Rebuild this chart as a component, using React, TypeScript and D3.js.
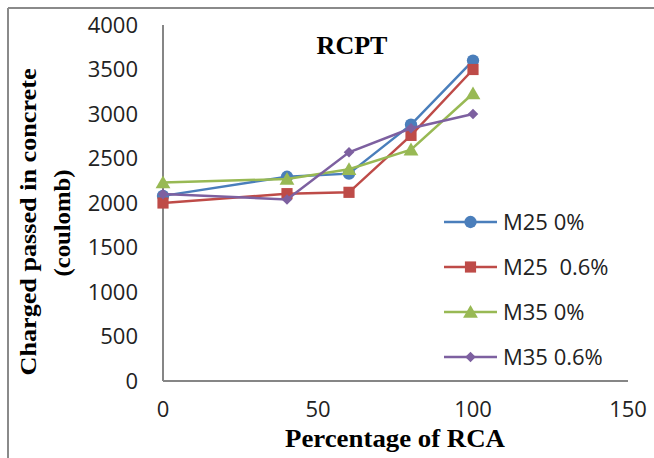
import React from "react";
import * as d3 from "d3";

const xValues = [0, 40, 60, 80, 100];
const m25_0 = [2080, 2295, 2330, 2880, 3600];
const m25_06 = [2000, 2105, 2120, 2760, 3500];
const m35_0 = [2230, 2270, 2380, 2600, 3230];
const m35_06 = [2100, 2040, 2570, 2840, 3000];
const seriesNames = ["M25 0%", "M25  0.6%", "M35 0%", "M35 0.6%"];
const seriesColors = ["#4A7EBB", "#BE4B48", "#98B954", "#7D60A0"];
const seriesMarkers = ["circle", "square", "triangle", "diamond"];
const yTicks = [0, 500, 1000, 1500, 2000, 2500, 3000, 3500, 4000];
const xTicks = [0, 50, 100, 150];

const W = 654;
const H = 458;
const plot = { left: 163, right: 628, top: 25, bottom: 381 };

export default function App() {
  const x = d3.scaleLinear().domain([0, 150]).range([plot.left, plot.right]);
  const y = d3.scaleLinear().domain([0, 4000]).range([plot.bottom, plot.top]);
  const all = [m25_0, m25_06, m35_0, m35_06];
  const line = d3
    .line<number>()
    .x((_, i) => x(xValues[i]))
    .y((d) => y(d));

  const symType: Record<string, any> = {
    circle: d3.symbolCircle,
    square: d3.symbolSquare,
    triangle: d3.symbolTriangle,
    diamond: d3.symbolSquare,
  };
  const symSize: Record<string, number> = {
    circle: 120,
    square: 125,
    triangle: 95,
    diamond: 56,
  };
  const marker = (kind: string, cx: number, cy: number, color: string, key: any) => {
    const p = d3.symbol().type(symType[kind]).size(symSize[kind])();
    const dy = kind === "triangle" ? 1.5 : 0;
    const rot = kind === "diamond" ? " rotate(45)" : "";
    return (
      <path key={key} d={p || ""} transform={`translate(${cx},${cy + dy})${rot}`} fill={color} stroke="none" />
    );
  };

  const legendY = [222, 267, 312, 357];

  return (
    <svg
      width={W}
      height={H}
      style={{ position: "absolute", left: 0, top: 0, background: "#fff" }}
      xmlns="http://www.w3.org/2000/svg"
    >
      <rect x={0} y={0} width={W} height={H} fill="#fff" />
      {/* outer frame */}
      <line x1={8} x2={W} y1={8} y2={8} stroke="#8a8a8a" strokeWidth={2} />
      <line x1={8} x2={8} y1={8} y2={H} stroke="#8a8a8a" strokeWidth={2} />

      {/* axes */}
      <line x1={plot.left} x2={plot.left} y1={plot.top} y2={plot.bottom} stroke="#868686" strokeWidth={2} />
      <line x1={plot.left} x2={plot.right} y1={plot.bottom} y2={plot.bottom} stroke="#868686" strokeWidth={2} />

      {/* y tick labels */}
      {yTicks.map((t) => (
        <text
          key={"y" + t}
          x={138}
          y={y(t) + 7.5}
          textAnchor="end"
          fontFamily="'Open Sans', sans-serif"
          fontSize={22}
          fill="#222"
        >
          {t}
        </text>
      ))}
      {/* x tick labels */}
      {xTicks.map((t) => (
        <text
          key={"x" + t}
          x={x(t)}
          y={417}
          textAnchor="middle"
          fontFamily="'Open Sans', sans-serif"
          fontSize={22}
          fill="#222"
        >
          {t}
        </text>
      ))}

      {/* series */}
      {all.map((s, si) => (
        <g key={"s" + si}>
          <path d={line(s) || ""} fill="none" stroke={seriesColors[si]} strokeWidth={2.5} />
          {s.map((v, i) => marker(seriesMarkers[si], x(xValues[i]), y(v), seriesColors[si], i))}
        </g>
      ))}

      {/* title */}
      <text
        x={352}
        y={54}
        textAnchor="middle"
        fontFamily="'Liberation Serif', 'Times New Roman', serif"
        fontWeight="bold"
        fontSize={26}
        fill="#000"
      >
        RCPT
      </text>

      {/* y axis title */}
      <g transform="translate(36,222) rotate(-90)">
        <text
          x={0}
          y={0}
          textAnchor="middle"
          fontFamily="'Liberation Serif', 'Times New Roman', serif"
          fontWeight="bold"
          fontSize={24}
          fill="#000"
          textLength={307}
          lengthAdjust="spacingAndGlyphs"
        >
          Charged passed in concrete
        </text>
      </g>
      <g transform="translate(70,223) rotate(-90)">
        <text
          x={0}
          y={0}
          textAnchor="middle"
          fontFamily="'Liberation Serif', 'Times New Roman', serif"
          fontWeight="bold"
          fontSize={24}
          fill="#000"
          textLength={107}
          lengthAdjust="spacingAndGlyphs"
        >
          (coulomb)
        </text>
      </g>

      {/* x axis title */}
      <text
        x={395}
        y={447}
        textAnchor="middle"
        fontFamily="'Liberation Serif', 'Times New Roman', serif"
        fontWeight="bold"
        fontSize={25}
        fill="#000"
        textLength={220}
        lengthAdjust="spacingAndGlyphs"
      >
        Percentage of RCA
      </text>

      {/* legend */}
      {seriesNames.map((n, i) => (
        <g key={"l" + i}>
          <line x1={444} x2={497} y1={legendY[i]} y2={legendY[i]} stroke={seriesColors[i]} strokeWidth={2.5} />
          {marker(seriesMarkers[i], 470.5, legendY[i], seriesColors[i], "m")}
          <text
            x={503}
            y={legendY[i] + 8}
            fontFamily="'Open Sans', sans-serif"
            fontSize={22}
            fill="#222"
          >
            {n.replace(/ /g, "\u00a0")}
          </text>
        </g>
      ))}
    </svg>
  );
}
